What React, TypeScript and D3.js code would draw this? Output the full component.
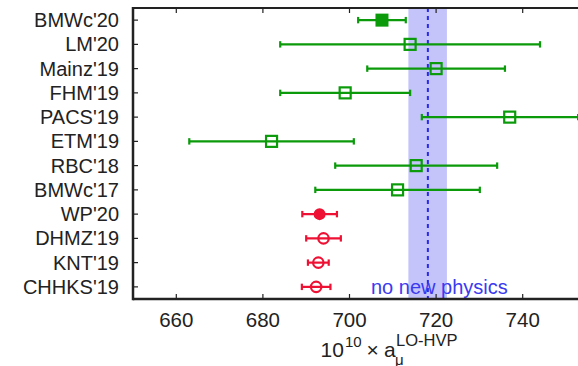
import React from "react"
import * as d3 from "d3"

const labels = ["BMWc'20", "LM'20", "Mainz'19", "FHM'19", "PACS'19", "ETM'19", "RBC'18", "BMWc'17", "WP'20", "DHMZ'19", "KNT'19", "CHHKS'19"]
const values = [707.5, 714, 720, 699, 737, 682, 715.4, 711.1, 693.1, 694.0, 692.8, 692.3]
const errLo = [5.5, 30, 15.9, 15, 20.3, 19, 18.7, 19, 4.0, 4.0, 2.4, 3.3]
const errHi = [5.5, 30, 15.9, 15, 15.8, 19, 18.7, 19, 4.0, 4.0, 2.4, 3.3]
const kinds = ["lattice-filled", "lattice", "lattice", "lattice", "lattice", "lattice", "lattice", "lattice", "pheno-filled", "pheno", "pheno", "pheno"]
const xTicks = [660, 680, 700, 720, 740]
const bandRange = [713.6, 722.5]
const bandCenter = 718.1

const W = 578
const H = 366
const LEFT = 133
const TOP = 8
const BOTTOM = 299

const GREEN = "#0a9a0a"
const RED = "#ee1133"
const AXIS = "#222"
const FONT = "'Liberation Sans', Arial, sans-serif"

export default function App() {
  const x = d3.scaleLinear().domain([650, 755]).range([LEFT, LEFT + 105 * 4.33])
  const y = d3.scalePoint<string>().domain(labels).range([TOP, BOTTOM]).padding(0.5)

  return (
    <svg width={W} height={H} style={{ position: "absolute", left: 0, top: 0, fontFamily: FONT }}>
      {/* band */}
      <rect x={x(bandRange[0])} y={TOP} width={x(bandRange[1]) - x(bandRange[0])} height={BOTTOM - TOP} fill="#c4c4fb" />
      <line x1={x(bandCenter)} x2={x(bandCenter)} y1={TOP} y2={BOTTOM} stroke="#2a2ae6" strokeWidth={2} strokeDasharray="4,4" />

      {/* points */}
      {labels.map((lab, i) => {
        const cy = y(lab) ?? 0
        const cx = x(values[i])
        const lattice = kinds[i].startsWith("lattice")
        const filled = kinds[i].endsWith("filled")
        const col = lattice ? GREEN : RED
        const x0 = x(values[i] - errLo[i])
        const x1 = x(values[i] + errHi[i])
        return (
          <g key={lab}>
            <line x1={x0} x2={x1} y1={cy} y2={cy} stroke={col} strokeWidth={2.2} />
            <line x1={x0} x2={x0} y1={cy - 3.2} y2={cy + 3.2} stroke={col} strokeWidth={2.2} />
            <line x1={x1} x2={x1} y1={cy - 3.2} y2={cy + 3.2} stroke={col} strokeWidth={2.2} />
            {lattice ? (
              filled ? (
                <rect x={cx - 6.5} y={cy - 6.5} width={13} height={13} fill={col} />
              ) : (
                <rect x={cx - 5.5} y={cy - 5.5} width={11} height={11} fill="none" stroke={col} strokeWidth={2.2} />
              )
            ) : filled ? (
              <circle cx={cx} cy={cy} r={6} fill={col} />
            ) : (
              <circle cx={cx} cy={cy} r={5.2} fill="none" stroke={col} strokeWidth={2.2} />
            )}
          </g>
        )
      })}

      <text x={371} y={293.5} fill="#3a3af0" fontSize={20}>no new physics</text>

      {/* axes */}
      <line x1={LEFT} x2={W} y1={TOP} y2={TOP} stroke={AXIS} strokeWidth={2} />
      <line x1={LEFT} x2={W} y1={BOTTOM} y2={BOTTOM} stroke={AXIS} strokeWidth={2.5} />
      <line x1={LEFT} x2={LEFT} y1={TOP - 1} y2={BOTTOM + 1.2} stroke={AXIS} strokeWidth={2.5} />
      {xTicks.map((t) => (
        <g key={t}>
          <line x1={x(t)} x2={x(t)} y1={TOP} y2={TOP + 5} stroke={AXIS} strokeWidth={1.2} />
          <line x1={x(t)} x2={x(t)} y1={BOTTOM} y2={BOTTOM - 5} stroke={AXIS} strokeWidth={1.2} />
          <text x={x(t)} y={327} fontSize={20.5} fill={AXIS} textAnchor="middle">{t}</text>
        </g>
      ))}
      {labels.map((lab) => (
        <g key={lab}>
          <line x1={LEFT} x2={LEFT + 5} y1={y(lab)} y2={y(lab)} stroke={AXIS} strokeWidth={1.2} />
          <text x={119} y={(y(lab) ?? 0) + 7} fontSize={20} fill={AXIS} textAnchor="end">{lab}</text>
        </g>
      ))}

      {/* axis title */}
      <text x={320.5} y={357} fontSize={21} fill={AXIS}>10</text>
      <text x={345} y={347} fontSize={15} fill={AXIS}>10</text>
      <text x={366.5} y={357} fontSize={21} fill={AXIS}>×</text>
      <text x={384} y={357} fontSize={21} fill={AXIS}>a</text>
      <text x={395} y={364.5} fontSize={15} fill={AXIS}>μ</text>
      <text x={396} y={345.5} fontSize={16.5} fill={AXIS}>LO-HVP</text>
    </svg>
  )
}
